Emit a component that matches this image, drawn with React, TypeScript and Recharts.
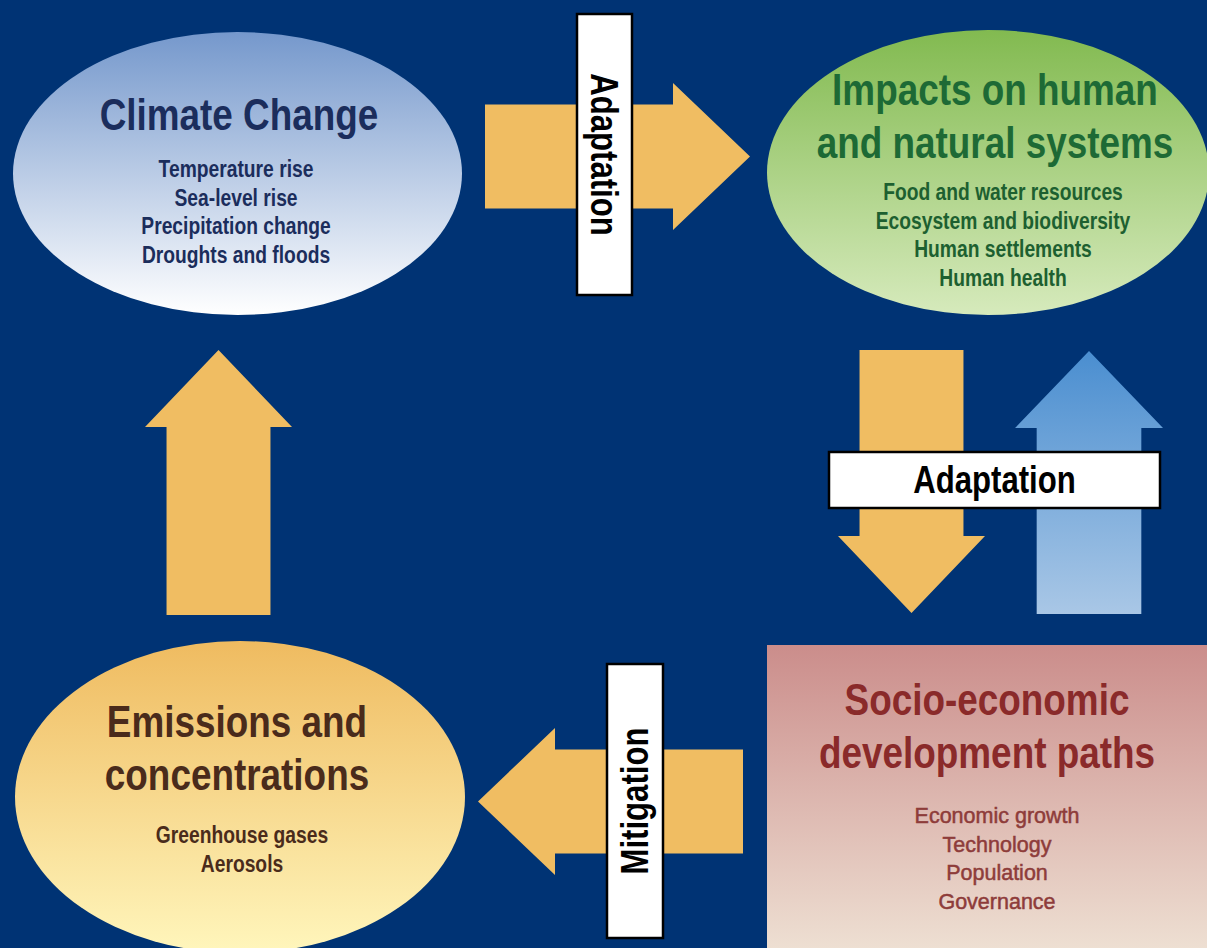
import { ComposedChart, XAxis, YAxis, ReferenceArea } from 'recharts';

const W = 1207;
const H = 948;

// boxes of the diagram
const nodeTitles = [
  ['Climate Change'],
  ['Impacts on human', 'and natural systems'],
  ['Emissions and', 'concentrations'],
  ['Socio-economic', 'development paths'],
];
const nodeItems = [
  ['Temperature rise', 'Sea-level rise', 'Precipitation change', 'Droughts and floods'],
  ['Food and water resources', 'Ecosystem and biodiversity', 'Human settlements', 'Human health'],
  ['Greenhouse gases', 'Aerosols'],
  ['Economic growth', 'Technology', 'Population', 'Governance'],
];
const nodeKind = ['ellipse', 'ellipse', 'ellipse', 'rect'];
const nodeX1 = [13, 767, 15, 767];
const nodeX2 = [462, 1209, 465, 1212];
const nodeY1 = [32, 30, 641, 645];
const nodeY2 = [315, 315, 953, 952];
const nodeTitleX = [239, 995, 237, 987];
const nodeItemX = [236, 1003, 242, 997];
const nodeTitleY = [130, 105, 737, 715];
const nodeItemY = [177, 200, 843, 823];

// arrows (bounding boxes + direction)
const arrowDir = ['right', 'up', 'down', 'up', 'left'];
const arrowX1 = [485, 145, 838, 1015, 478];
const arrowX2 = [750, 292, 985, 1163, 743];
const arrowY1 = [83, 350, 350, 351, 728];
const arrowY2 = [230, 615, 613, 614, 875];
const arrowFill = ['#f0bd62', '#f0bd62', '#f0bd62', 'url(#gBlue)', '#f0bd62'];

// white labels laid over the arrows
const labelText = ['Adaptation', 'Adaptation', 'Mitigation'];
const labelRotate = [90, 0, -90];
const labelX1 = [577, 829, 607];
const labelX2 = [632, 1160, 663];
const labelY1 = [14, 452, 664];
const labelY2 = [295, 508, 938];

// Arial Narrow look: Liberation Sans squeezed horizontally
const FONT = "'Liberation Sans', Arial, sans-serif";
const NARROW = 0.82;
const nodeFill = ['url(#gClimate)', 'url(#gImpacts)', 'url(#gEmissions)', 'url(#gSocio)'];
const titleColor = ['#1b2d5c', '#1d6a35', '#4a2b1b', '#8a2a2a'];
const itemColor = ['#1b2d5c', '#1d6030', '#4a2b1b', '#8e3c3a'];
const itemNarrow = [true, true, true, false];
const HEAD = 77;
const BODY = 0.707;

const SText = ({ x, y, size, color, bold = true, sx = NARROW, rotate = 0, central = false, stroke = 0, children }: any) => (
  <text
    x={0}
    y={0}
    transform={`translate(${x} ${y}) rotate(${rotate}) scale(${sx} 1)`}
    textAnchor="middle"
    dominantBaseline={central ? 'central' : 'alphabetic'}
    fontFamily={FONT}
    fontWeight={bold ? 'bold' : 'normal'}
    fontSize={size}
    fill={color}
    stroke={stroke ? color : 'none'}
    strokeWidth={stroke}
  >
    {children}
  </text>
);

const NodeShape = (p: any, i: number) => {
  const { x, y, width, height } = p;
  const kx = width / (nodeX2[i] - nodeX1[i]);
  const ky = height / (nodeY2[i] - nodeY1[i]);
  const px = (v: number) => x + (v - nodeX1[i]) * kx;
  const py = (v: number) => y + (v - nodeY1[i]) * ky;
  return (
    <g>
      {nodeKind[i] === 'ellipse' ? (
        <ellipse cx={x + width / 2} cy={y + height / 2} rx={width / 2} ry={height / 2} fill={nodeFill[i]} />
      ) : (
        <rect x={x} y={y} width={width} height={height} fill={nodeFill[i]} />
      )}
      {nodeTitles[i].map((t, j) => (
        <SText key={t} x={px(nodeTitleX[i])} y={py(nodeTitleY[i] + j * 53)} size={45} color={titleColor[i]}>
          {t}
        </SText>
      ))}
      {nodeItems[i].map((t, j) =>
        itemNarrow[i] ? (
          <SText key={t} x={px(nodeItemX[i])} y={py(nodeItemY[i] + j * 28.5)} size={23.5} color={itemColor[i]}>
            {t}
          </SText>
        ) : (
          <SText key={t} x={px(nodeItemX[i])} y={py(nodeItemY[i] + j * 28.5)} size={21.5} color={itemColor[i]}
            bold={false} sx={1} stroke={0.5}>
            {t}
          </SText>
        )
      )}
    </g>
  );
};

const ArrowShape = (p: any, i: number) => {
  const { x, y, width: w, height: h } = p;
  const dir = arrowDir[i];
  let d = '';
  if (dir === 'right' || dir === 'left') {
    const head = HEAD * (w / (arrowX2[i] - arrowX1[i]));
    const cy = y + h / 2;
    const bt = (h * BODY) / 2;
    if (dir === 'right') {
      const hx = x + w - head;
      d = `M${x},${cy - bt}L${hx},${cy - bt}L${hx},${y}L${x + w},${cy}L${hx},${y + h}L${hx},${cy + bt}L${x},${cy + bt}Z`;
    } else {
      const hx = x + head;
      d = `M${x + w},${cy - bt}L${hx},${cy - bt}L${hx},${y}L${x},${cy}L${hx},${y + h}L${hx},${cy + bt}L${x + w},${cy + bt}Z`;
    }
  } else {
    const head = HEAD * (h / (arrowY2[i] - arrowY1[i]));
    const cx = x + w / 2;
    const bt = (w * BODY) / 2;
    if (dir === 'up') {
      const hy = y + head;
      d = `M${cx - bt},${y + h}L${cx - bt},${hy}L${x},${hy}L${cx},${y}L${x + w},${hy}L${cx + bt},${hy}L${cx + bt},${y + h}Z`;
    } else {
      const hy = y + h - head;
      d = `M${cx - bt},${y}L${cx - bt},${hy}L${x},${hy}L${cx},${y + h}L${x + w},${hy}L${cx + bt},${hy}L${cx + bt},${y}Z`;
    }
  }
  return <path d={d} fill={arrowFill[i]} />;
};

const LabelShape = (p: any, i: number) => {
  const { x, y, width, height } = p;
  const cx = x + width / 2;
  const cy = y + height / 2;
  return (
    <g>
      <rect x={x} y={y} width={width} height={height} fill="#ffffff" stroke="#000000" strokeWidth={2.5} />
      <SText x={cx} y={cy} size={38} color="#000000" rotate={labelRotate[i]} central>
        {labelText[i]}
      </SText>
    </g>
  );
};

export default function App() {
  return (
    <div style={{ position: 'absolute', left: 0, top: 0, width: W, height: H, background: '#003374', overflow: 'hidden' }}>
      <ComposedChart width={W} height={H} margin={{ top: 0, right: 0, bottom: 0, left: 0 }}>
        <defs>
          <linearGradient id="gClimate" x1="0" y1="0" x2="0" y2="1">
            <stop offset="0%" stopColor="#7598cc" />
            <stop offset="100%" stopColor="#ffffff" />
          </linearGradient>
          <linearGradient id="gImpacts" x1="0" y1="0" x2="0" y2="1">
            <stop offset="0%" stopColor="#82ba50" />
            <stop offset="100%" stopColor="#d6eabc" />
          </linearGradient>
          <linearGradient id="gEmissions" x1="0" y1="0" x2="0" y2="1">
            <stop offset="0%" stopColor="#efbb60" />
            <stop offset="100%" stopColor="#fff6bc" />
          </linearGradient>
          <linearGradient id="gSocio" x1="0" y1="0" x2="0" y2="1">
            <stop offset="0%" stopColor="#cb8d8b" />
            <stop offset="100%" stopColor="#eee0d3" />
          </linearGradient>
          <linearGradient id="gBlue" x1="0" y1="0" x2="0" y2="1">
            <stop offset="0%" stopColor="#4a8ed0" />
            <stop offset="100%" stopColor="#a9c7e6" />
          </linearGradient>
        </defs>
        <XAxis type="number" dataKey="x" domain={[0, W]} hide allowDataOverflow />
        <YAxis type="number" dataKey="y" domain={[0, H]} reversed hide allowDataOverflow />
        {nodeTitles.map((_, i) => (
          <ReferenceArea key={`n${i}`} x1={nodeX1[i]} x2={nodeX2[i]} y1={nodeY1[i]} y2={nodeY2[i]}
            ifOverflow="visible" shape={(p: any) => NodeShape(p, i)} />
        ))}
        {arrowDir.map((_, i) => (
          <ReferenceArea key={`a${i}`} x1={arrowX1[i]} x2={arrowX2[i]} y1={arrowY1[i]} y2={arrowY2[i]}
            ifOverflow="visible" shape={(p: any) => ArrowShape(p, i)} />
        ))}
        {labelText.map((_, i) => (
          <ReferenceArea key={`l${i}`} x1={labelX1[i]} x2={labelX2[i]} y1={labelY1[i]} y2={labelY2[i]}
            ifOverflow="visible" shape={(p: any) => LabelShape(p, i)} />
        ))}
      </ComposedChart>
    </div>
  );
}
